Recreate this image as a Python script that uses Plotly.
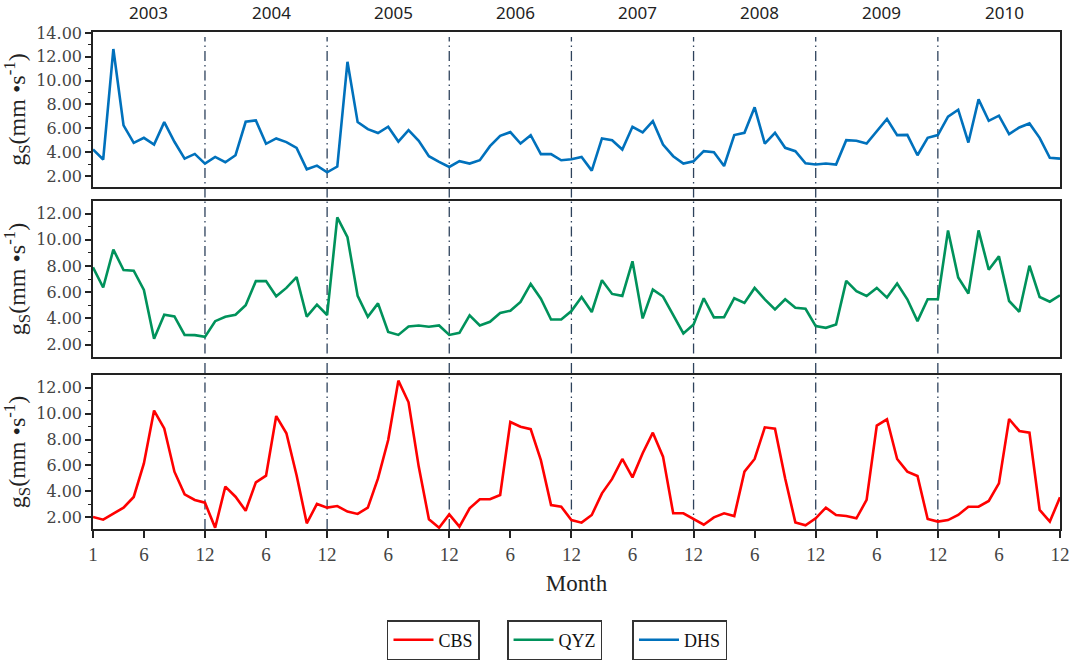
import plotly.graph_objects as go
from plotly.subplots import make_subplots

years = [2003, 2004, 2005, 2006, 2007, 2008, 2009, 2010]
months = list(range(1, 97))

x_tick_vals = [1, 6, 12, 18, 24, 30, 36, 42, 48, 54, 60, 66, 72, 78, 84, 90, 96]
x_tick_text = ["1", "6", "12", "6", "12", "6", "12", "6", "12", "6", "12", "6", "12", "6", "12", "6", "12"]

dhs = [4.22, 3.38, 12.65, 6.24, 4.78, 5.20, 4.64, 6.52, 4.87, 3.46, 3.85, 3.04,
       3.60, 3.15, 3.74, 6.55, 6.66, 4.70, 5.15, 4.84, 4.36, 2.56, 2.87, 2.31,
       2.79, 11.58, 6.52, 5.93, 5.60, 6.13, 4.89, 5.85, 4.95, 3.66, 3.18, 2.76,
       3.24, 3.04, 3.32, 4.50, 5.37, 5.68, 4.72, 5.42, 3.83, 3.83, 3.32, 3.40,
       3.60, 2.45, 5.15, 5.00, 4.22, 6.13, 5.65, 6.60, 4.64, 3.66, 3.04, 3.24,
       4.08, 4.00, 2.84, 5.43, 5.62, 7.76, 4.72, 5.62, 4.36, 4.08, 3.07, 2.96,
       3.04, 2.96, 5.00, 4.95, 4.72, 5.76, 6.78, 5.43, 5.45, 3.74, 5.20, 5.43,
       6.97, 7.56, 4.81, 8.43, 6.63, 7.06, 5.51, 6.07, 6.41, 5.20, 3.52, 3.46]

qyz = [7.90, 6.36, 9.26, 7.69, 7.64, 6.18, 2.44, 4.28, 4.15, 2.74, 2.72, 2.59,
       3.79, 4.13, 4.28, 5.00, 6.85, 6.85, 5.69, 6.33, 7.15, 4.13, 5.05, 4.26,
       11.72, 10.20, 5.72, 4.13, 5.15, 2.97, 2.74, 3.38, 3.46, 3.36, 3.46, 2.74,
       2.90, 4.23, 3.46, 3.74, 4.41, 4.59, 5.26, 6.63, 5.51, 3.92, 3.92, 4.56,
       5.64, 4.49, 6.92, 5.87, 5.72, 8.36, 4.00, 6.20, 5.67, 4.28, 2.85, 3.54,
       5.54, 4.08, 4.10, 5.54, 5.18, 6.33, 5.46, 4.69, 5.46, 4.82, 4.74, 3.41,
       3.28, 3.54, 6.87, 6.08, 5.72, 6.33, 5.59, 6.67, 5.46, 3.79, 5.46, 5.46,
       10.72, 7.13, 5.90, 10.72, 7.72, 8.74, 5.33, 4.51, 8.03, 5.64, 5.28, 5.77]

cbs = [2.03, 1.82, 2.28, 2.75, 3.57, 6.16, 10.23, 8.86, 5.52, 3.77, 3.34, 3.13,
       1.20, 4.37, 3.59, 2.51, 4.70, 5.21, 9.81, 8.48, 5.24, 1.54, 3.03, 2.75,
       2.87, 2.44, 2.26, 2.75, 5.00, 7.96, 12.54, 10.87, 5.91, 1.85, 1.20, 2.23,
       1.28, 2.69, 3.39, 3.39, 3.72, 9.35, 8.99, 8.80, 6.41, 2.95, 2.82, 1.79,
       1.59, 2.18, 3.85, 4.96, 6.50, 5.08, 6.94, 8.53, 6.68, 2.31, 2.31, 1.85,
       1.43, 2.00, 2.31, 2.10, 5.52, 6.50, 8.94, 8.84, 5.00, 1.61, 1.38, 1.92,
       2.75, 2.18, 2.10, 1.92, 3.34, 9.07, 9.56, 6.50, 5.52, 5.19, 1.87, 1.67,
       1.79, 2.18, 2.82, 2.82, 3.26, 4.62, 9.58, 8.66, 8.53, 2.57, 1.67, 3.54]

series = [("DHS", dhs, "#0071BC", 1, "legend3"),
          ("QYZ", qyz, "#00925B", 2, "legend2"),
          ("CBS", cbs, "#FF0000", 3, "legend")]

y_ranges = {1: [1.07, 14.08], 2: [1.05, 12.97], 3: [1.1, 12.98]}
y_ticks = {1: [2, 4, 6, 8, 10, 12, 14], 2: [2, 4, 6, 8, 10, 12], 3: [2, 4, 6, 8, 10, 12]}
domains = {1: [0.688, 1.0], 2: [0.346, 0.660], 3: [0.0, 0.310]}

SERIF = "Liberation Serif, DejaVu Serif, serif"
WSERIF = "DejaVu Serif, Liberation Serif, serif"
SANS = "Noto Sans, Liberation Sans, sans-serif"

fig = make_subplots(rows=3, cols=1, shared_xaxes=True, vertical_spacing=0.03)

for name, vals, color, row, leg in series:
    fig.add_trace(go.Scatter(x=months, y=vals, mode="lines", name=name,
                             line=dict(color=color, width=2.6),
                             legend=leg, showlegend=True),
                  row=row, col=1)

ytitle = "g<sub>S</sub>(mm •s<sup>-1</sup>)"
for row in (1, 2, 3):
    fig.update_yaxes(row=row, col=1, range=y_ranges[row], domain=domains[row],
                     automargin=False,
                     tickvals=y_ticks[row],
                     ticktext=[f"{v:.2f}" for v in y_ticks[row]],
                     ticks="outside", ticklen=6, tickwidth=1.5, tickcolor="#222",
                     minor=dict(ticks="outside", ticklen=3, tickwidth=1.2,
                                tickcolor="#222", dtick=1),
                     showline=True, linecolor="#222", linewidth=1.6, mirror=True,
                     showgrid=False, zeroline=False,
                     tickfont=dict(family=WSERIF, size=16, color="#444"),
                     title=dict(text=ytitle, standoff=4,
                                font=dict(family=SERIF, size=24, color="#222")))
    fig.update_xaxes(row=row, col=1, range=[1, 96], automargin=False,
                     showline=True, linecolor="#222", linewidth=1.6, mirror=True,
                     showgrid=False, zeroline=False)

fig.update_xaxes(row=3, col=1, tickvals=x_tick_vals, ticktext=x_tick_text,
                 ticks="outside", ticklen=7, tickwidth=1.5, tickcolor="#222",
                 showticklabels=True,
                 tickfont=dict(family=SERIF, size=19, color="#444"),
                 title=dict(text="Month", standoff=11,
                            font=dict(family=SERIF, size=23, color="#222")))

# year separators and year labels
for i, yr in enumerate(years):
    end = 12 * (i + 1)
    if end < 96:
        fig.add_shape(type="line", xref="x3", yref="paper", x0=end, x1=end,
                      y0=0, y1=0.99, layer="below",
                      line=dict(color="#2E425C", width=1.3, dash="10px,4px,1.5px,4px"))
    fig.add_annotation(x=end - 5.5, xref="x3", y=1.0, yref="paper", yshift=6,
                       yanchor="bottom", showarrow=False, text=str(yr),
                       font=dict(family=SANS, size=17, color="#222"))

leg_common = dict(orientation="h", yanchor="top", xanchor="left",
                  xref="container", yref="container",
                  bgcolor="white", bordercolor="#333", borderwidth=1.5,
                  font=dict(family=SERIF, size=18, color="#111"),
                  itemwidth=40, tracegroupgap=0)
fig.update_layout(
    width=1072, height=661,
    margin=dict(l=93, r=12, t=32, b=132),
    paper_bgcolor="white", plot_bgcolor="white",
    showlegend=True,
    legend=dict(x=0.361, y=0.062, **leg_common),
    legend2=dict(x=0.473, y=0.062, **leg_common),
    legend3=dict(x=0.590, y=0.062, **leg_common),
)

fig.write_html("out.html", config={"displayModeBar": False},
               post_script="document.body.style.margin='0';document.body.style.overflow='hidden';")
